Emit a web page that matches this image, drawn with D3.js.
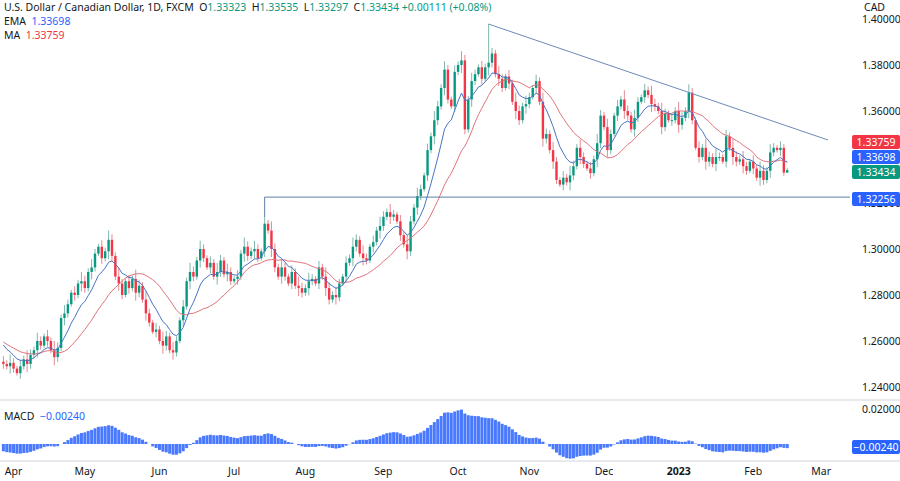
<!DOCTYPE html>
<html><head><meta charset="utf-8">
<script src="https://cdn.jsdelivr.net/npm/d3@7"></script>
<style>body{margin:0;background:#fff;font-family:"Noto Sans",Roboto,sans-serif}</style>
</head><body>
<svg id="chart" width="900" height="481"></svg>
<script>
// 3月の終値（MA/EMA計算のウォームアップ用、描画しない）
var preCloses = [1.2820,1.2800,1.2780,1.2760,1.2790,1.2750,1.2720,1.2680,1.2700,1.2660,
  1.2640,1.2620,1.2650,1.2600,1.2580,1.2560,1.2590,1.2540,1.2520,1.2510,
  1.2530,1.2560,1.2620,1.2680,1.2650,1.2620,1.2580];
// 終値（2022/3/29〜2023/2/15、営業日）
var closes = [
  1.2500,1.2490,1.2505,1.2480,1.2460,1.2490,1.2520,1.2500,1.2540,1.2560,
  1.2600,1.2580,1.2620,1.2600,1.2560,1.2530,1.2570,1.2700,1.2720,1.2760,
  1.2810,1.2800,1.2850,1.2860,1.2830,1.2900,1.2920,1.2980,1.3010,1.2960,
  1.2990,1.3040,1.2970,1.2880,1.2850,1.2800,1.2860,1.2830,1.2870,1.2810,
  1.2840,1.2780,1.2720,1.2680,1.2640,1.2650,1.2600,1.2580,1.2620,1.2560,
  1.2550,1.2600,1.2690,1.2750,1.2860,1.2900,1.2880,1.2950,1.3000,1.2960,
  1.2920,1.2940,1.2880,1.2900,1.2950,1.2890,1.2900,1.2860,1.2870,1.2880,
  1.2980,1.3010,1.2970,1.2990,1.3000,1.2960,1.2990,1.3110,1.3080,1.3000,
  1.2920,1.2880,1.2920,1.2880,1.2850,1.2900,1.2840,1.2830,1.2810,1.2830,
  1.2860,1.2870,1.2850,1.2920,1.2880,1.2830,1.2780,1.2800,1.2790,1.2850,
  1.2880,1.2940,1.2960,1.3010,1.3040,1.2980,1.2960,1.2950,1.3010,1.3030,
  1.3080,1.3100,1.3140,1.3160,1.3140,1.3150,1.3120,1.3060,1.3020,1.2990,
  1.3120,1.3180,1.3230,1.3260,1.3320,1.3430,1.3490,1.3560,1.3620,1.3700,
  1.3780,1.3650,1.3620,1.3770,1.3800,1.3820,1.3520,1.3650,1.3730,1.3760,
  1.3790,1.3740,1.3790,1.3810,1.3850,1.3760,1.3740,1.3700,1.3750,1.3720,
  1.3640,1.3600,1.3560,1.3620,1.3630,1.3660,1.3700,1.3730,1.3640,1.3480,
  1.3500,1.3430,1.3380,1.3300,1.3280,1.3310,1.3290,1.3320,1.3360,1.3440,
  1.3400,1.3370,1.3350,1.3330,1.3390,1.3460,1.3580,1.3530,1.3430,1.3500,
  1.3580,1.3620,1.3650,1.3600,1.3580,1.3520,1.3570,1.3640,1.3660,1.3690,
  1.3670,1.3630,1.3620,1.3600,1.3530,1.3590,1.3560,1.3560,1.3600,1.3540,
  1.3570,1.3600,1.3680,1.3560,1.3440,1.3400,1.3440,1.3380,1.3400,1.3370,
  1.3400,1.3400,1.3380,1.3490,1.3440,1.3400,1.3380,1.3390,1.3360,1.3340,
  1.3380,1.3350,1.3310,1.3340,1.3300,1.3340,1.3420,1.3440,1.3430,1.3440,
  1.3332,1.3343];
// 各営業日の上下ヒゲの長さ（おおよそ）
var wickPattern = [0.0030,0.0020,0.0045,0.0025,0.0015,0.0035,0.0020,0.0050];
var priceTicks = [1.24,1.26,1.28,1.30,1.32,1.36,1.38,1.40];
var macdTicks = [0.02];
var monthLabels = ["Apr","May","Jun","Jul","Aug","Sep","Oct","Nov","Dec","2023","Feb","Mar"];
// ライン・ラベル
var supportLevel = 1.32256, supportStartIdx = 77;
var trendFrom = {i: 143, p: 1.3978}, trendTo = {i: 243, p: 1.3474};
var lastMA = "1.33759", lastEMA = "1.33698", lastClose = "1.33434", lastMACD = "−0.00240";

// 日付（週末を除く）
var dates = [];
var d = new Date(2022, 2, 29);
while (dates.length < closes.length + 12) {
  if (d.getDay() !== 0 && d.getDay() !== 6) dates.push(new Date(d));
  d.setDate(d.getDate() + 1);
}
var candles = closes.map(function (c, i) {
  var o = i === 0 ? 1.2510 : closes[i - 1];
  if (i === closes.length - 1) o = 1.33323;
  var w = wickPattern[i % wickPattern.length];
  var h = Math.max(o, c) + w * 0.8, l = Math.min(o, c) - w * 0.7;
  if (i === closes.length - 1) { h = 1.33535; l = 1.33297; }
  return {i: i, o: o, c: c, h: h, l: l};
});
candles[143].h = 1.3978;

// 指標
var all = preCloses.concat(closes);
function ema(arr, n) { var k = 2 / (n + 1), out = [], e = arr[0];
  arr.forEach(function (v, j) { e = j === 0 ? v : v * k + e * (1 - k); out.push(e); }); return out; }
function sma(arr, n) { return arr.map(function (v, j) { var s = arr.slice(Math.max(0, j - n + 1), j + 1); return d3.mean(s); }); }
var off = preCloses.length;
var emaLine = ema(all, 9).slice(off);
var maLine = sma(all, 20).slice(off);
var e12 = ema(all, 12), e26 = ema(all, 26);
var macd = all.map(function (v, j) { return e12[j] - e26[j]; }).slice(off);

var svg = d3.select("#chart");
var W = 900, plotR = 850;
var x = d3.scaleLinear().domain([-1, 249.5]).range([0, plotR]);
var y = d3.scaleLinear().domain([1.24, 1.40]).range([387, 19]);
var ym = d3.scaleLinear().domain([0, 0.02]).range([444, 409]);
var bw = 2.4;

// 価格軸
svg.append("g").selectAll("text").data(priceTicks).enter().append("text")
  .attr("x", 862).attr("y", function (t) { return y(t) + 4; })
  .attr("font-size", 10.5).attr("fill", "#131722").text(function (t) { return t.toFixed(5); });
svg.append("text").attr("x", 864).attr("y", 11).attr("font-size", 10.5).attr("fill", "#131722").text("CAD");

// ろうそく足
var g = svg.append("g");
g.selectAll("line.w").data(candles).enter().append("line")
  .attr("x1", function (c) { return x(c.i); }).attr("x2", function (c) { return x(c.i); })
  .attr("y1", function (c) { return y(c.h); }).attr("y2", function (c) { return y(c.l); })
  .attr("stroke", function (c) { return c.c >= c.o ? "#7fb8ad" : "#e68a94"; }).attr("stroke-width", 1);
g.selectAll("rect").data(candles).enter().append("rect")
  .attr("x", function (c) { return x(c.i) - bw / 2; }).attr("width", bw)
  .attr("y", function (c) { return y(Math.max(c.o, c.c)); })
  .attr("height", function (c) { return Math.max(1, y(Math.min(c.o, c.c)) - y(Math.max(c.o, c.c))); })
  .attr("fill", function (c) { return c.c >= c.o ? "#089981" : "#f23645"; });

var line = function (arr) { return d3.line().x(function (v, i) { return x(i); }).y(function (v) { return y(v); })(arr); };
svg.append("path").attr("d", line(maLine)).attr("fill", "none").attr("stroke", "#e0727c").attr("stroke-width", 1);
svg.append("path").attr("d", line(emaLine)).attr("fill", "none").attr("stroke", "#4a73c4").attr("stroke-width", 1);

// サポートとトレンドライン
svg.append("path").attr("d", "M" + x(supportStartIdx) + "," + y(candles[supportStartIdx].h) + "V" + y(supportLevel) + "H" + plotR)
  .attr("fill", "none").attr("stroke", "#5d7fa8").attr("stroke-width", 1);
svg.append("line").attr("x1", x(trendFrom.i)).attr("y1", y(trendFrom.p)).attr("x2", x(trendTo.i)).attr("y2", y(trendTo.p))
  .attr("stroke", "#6b8bb8").attr("stroke-width", 1);

// 右側のラベル（重ならないように上へずらす）
function tag(yy, txt, col) {
  svg.append("rect").attr("x", plotR + 2).attr("y", yy - 7).attr("width", 48).attr("height", 14).attr("rx", 2).attr("fill", col);
  svg.append("text").attr("x", plotR + 26).attr("y", yy + 4).attr("text-anchor", "middle").attr("font-size", 10.5).attr("fill", "#fff").text(txt);
}
tag(y(1.33434) + 2, lastClose, "#089981");
tag(y(1.33434) - 13, lastEMA, "#2962ff");
tag(y(1.33434) - 28, lastMA, "#f23645");
tag(y(supportLevel) + 2, supportLevel.toFixed(5), "#2962ff");

// MACDパネル
svg.append("line").attr("x1", 0).attr("x2", W).attr("y1", 400).attr("y2", 400).attr("stroke", "#d1d4dc");
svg.append("g").selectAll("rect").data(macd).enter().append("rect")
  .attr("x", function (v, i) { return x(i) - 1.5; }).attr("width", 3)
  .attr("y", function (v) { return Math.min(ym(v), ym(0)); })
  .attr("height", function (v) { return Math.abs(ym(v) - ym(0)); })
  .attr("fill", "#2962ff").attr("opacity", 0.85);
svg.append("g").selectAll("text").data(macdTicks).enter().append("text")
  .attr("x", 862).attr("y", function (t) { return ym(t) + 4; }).attr("font-size", 10.5).attr("fill", "#131722").text(function (t) { return t.toFixed(5); });
svg.append("rect").attr("x", plotR + 2).attr("y", 440).attr("width", 48).attr("height", 14).attr("rx", 2).attr("fill", "#2962ff");
svg.append("text").attr("x", plotR + 26).attr("y", 451).attr("text-anchor", "middle").attr("font-size", 10.5).attr("fill", "#fff").text(lastMACD);
svg.append("text").attr("x", 4).attr("y", 420).attr("font-size", 10.5).attr("fill", "#131722")
  .html('MACD <tspan fill="#2962ff" dx="3">' + lastMACD + '</tspan>');

// 時間軸
svg.append("line").attr("x1", 0).attr("x2", W).attr("y1", 461).attr("y2", 461).attr("stroke", "#d1d4dc");
var monthIdx = [];
dates.forEach(function (dt, i) {
  if (i > 0 && dt.getMonth() !== dates[i - 1].getMonth()) monthIdx.push(i);
});
svg.append("g").selectAll("text").data(monthIdx.slice(0, monthLabels.length)).enter().append("text")
  .attr("x", function (i) { return x(i); }).attr("y", 475).attr("text-anchor", "middle")
  .attr("font-size", 10.5).attr("fill", "#131722")
  .attr("font-weight", function (i, k) { return monthLabels[k] === "2023" ? "bold" : "normal"; })
  .text(function (i, k) { return monthLabels[k]; });

// 凡例
var leg = svg.append("g").attr("font-size", 10.5);
leg.append("text").attr("x", 4).attr("y", 11).attr("fill", "#131722")
  .html('U.S. Dollar / Canadian Dollar, 1D, FXCM&#160;&#160;O<tspan fill="#089981">1.33323</tspan>&#160;&#160;H<tspan fill="#089981">1.33535</tspan>&#160;&#160;L<tspan fill="#089981">1.33297</tspan>&#160;&#160;C<tspan fill="#089981">1.33434 +0.00111 (+0.08%)</tspan>');
leg.append("text").attr("x", 4).attr("y", 25).attr("fill", "#131722").html('EMA&#160;&#160;<tspan fill="#2962ff">' + lastEMA + '</tspan>');
leg.append("text").attr("x", 4).attr("y", 39).attr("fill", "#131722").html('MA&#160;&#160;<tspan fill="#f23645">' + lastMA + '</tspan>');
</script>
</body></html>
